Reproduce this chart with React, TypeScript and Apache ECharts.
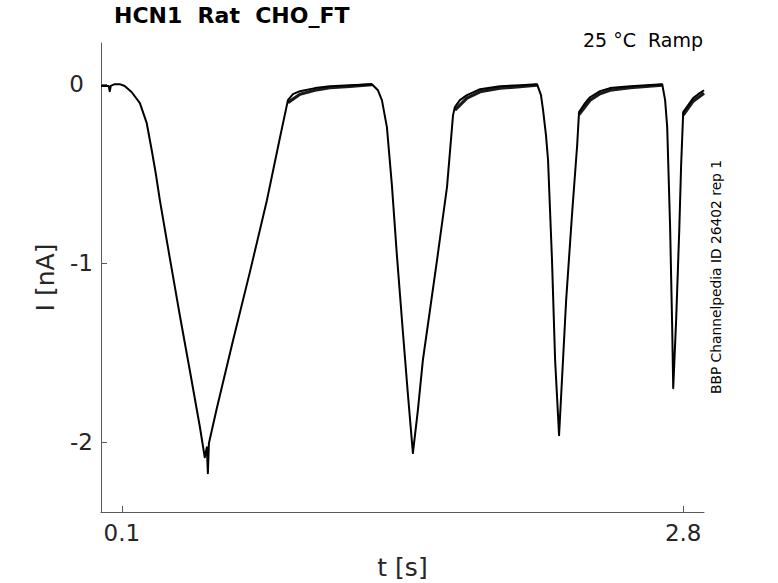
import React, { useEffect, useRef } from "react";
import * as echarts from "echarts";

// Main trace: time [s] and current [nA]
const tMain = [
  0.0, 0.023, 0.037, 0.042, 0.047, 0.066, 0.09, 0.114, 0.148, 0.187, 0.22, 0.244, 0.264, 0.283, 0.331, 0.379, 0.427, 0.475,
  0.499, 0.509, 0.514, 0.519, 0.557, 0.634, 0.716, 0.798, 0.86, 0.899, 0.923, 0.957, 1.029, 1.101, 1.197, 1.303,
  1.332, 1.351, 1.375, 1.399, 1.423, 1.452, 1.476, 1.5, 1.524, 1.548, 1.582, 1.616, 1.664, 1.693, 1.702, 1.726, 1.76,
  1.823, 1.919, 2.015, 2.097,
  2.116, 2.126, 2.14, 2.15, 2.169, 2.184, 2.203, 2.237, 2.265, 2.29, 2.299, 2.328, 2.352, 2.4, 2.448, 2.545, 2.699,
  2.713, 2.723, 2.737, 2.747, 2.752, 2.766, 2.781, 2.79, 2.8, 2.824, 2.848, 2.872, 2.9,
];
const iMain = [
  -0.01, -0.01, -0.01, -0.04, -0.01, 0.0, 0.0, -0.01, -0.045, -0.106, -0.218, -0.369, -0.503, -0.648, -0.972, -1.291, -1.598, -1.911,
  -2.084, -2.028, -2.173, -2.006, -1.81, -1.436, -1.05, -0.648, -0.302, -0.089, -0.056, -0.039, -0.022, -0.011, -0.006, 0.0,
  -0.034, -0.089, -0.24, -0.564, -0.955, -1.386, -1.732, -2.061, -1.821, -1.542, -1.263, -0.983, -0.575, -0.173, -0.128, -0.089, -0.061,
  -0.028, -0.011, -0.006, 0.0,
  -0.061, -0.145, -0.285, -0.425, -0.983, -1.542, -1.961, -1.207, -0.732, -0.341, -0.156, -0.106, -0.073, -0.039, -0.022, -0.011, 0.0,
  -0.089, -0.24, -0.799, -1.358, -1.698, -1.318, -0.816, -0.453, -0.156, -0.117, -0.078, -0.056, -0.034,
];

// Spread of the repeated sweeps during recovery (lower edge of the bundle)
const tBand = [
  0.899, 0.957, 1.029, 1.101, 1.197, 1.303, NaN,
  1.702, 1.76, 1.823, 1.919, 2.015, 2.097, NaN,
  2.299, 2.352, 2.4, 2.448, 2.545, 2.699, NaN,
  2.8, 2.848, 2.9,
];
const iBand = [
  -0.103, -0.056, -0.034, -0.02, -0.012, -0.003, NaN,
  -0.145, -0.078, -0.042, -0.022, -0.014, -0.005, NaN,
  -0.17, -0.09, -0.053, -0.034, -0.02, -0.005, NaN,
  -0.172, -0.095, -0.05,
];

const xTicks = [0.1, 2.8];
const yTicks = [0, -1, -2];

const FONT = "DejaVu Sans";
const TXT = "#262626";

export default function App() {
  const ref = useRef<HTMLDivElement>(null);
  useEffect(() => {
    document.body.style.margin = "0";
    const chart = echarts.init(ref.current!, undefined, { renderer: "svg" });
    const mainData = tMain.map((t, k) => [t, iMain[k]]);
    const bandData = tBand.map((t, k) => (isNaN(t) ? ["-", "-"] : [t, iBand[k]]));
    chart.setOption({
      animation: false,
      backgroundColor: "#fff",
      grid: { left: 101, right: 74, top: 43, bottom: 71, outerBoundsMode: "none" },
      xAxis: {
        type: "value",
        min: 0,
        max: 2.9,
        name: "t [s]",
        nameLocation: "middle",
        nameGap: 43,
        nameTextStyle: { fontFamily: FONT, fontSize: 25, color: TXT },
        axisLine: { show: true, onZero: false, lineStyle: { color: "#595959", width: 1 } },
        axisTick: { show: true, inside: true, length: 6, customValues: xTicks, lineStyle: { color: "#595959" } },
        axisLabel: {
          customValues: xTicks,
          fontFamily: FONT,
          fontSize: 23,
          color: TXT,
          margin: 9,
          formatter: (v: number) => String(v),
        },
        splitLine: { show: false },
      },
      yAxis: {
        type: "value",
        min: -2.39,
        max: 0.23,
        name: "I [nA]",
        nameLocation: "middle",
        nameGap: 35,
        nameTextStyle: { fontFamily: FONT, fontSize: 25, color: TXT },
        axisLine: { show: true, onZero: false, lineStyle: { color: "#595959", width: 1 } },
        axisTick: { show: true, inside: true, length: 6, customValues: yTicks, lineStyle: { color: "#595959" } },
        axisLabel: {
          customValues: yTicks,
          fontFamily: FONT,
          fontSize: 23,
          color: TXT,
          margin: 8,
          formatter: (v: number) => (v === 0 ? "{z|0}" : String(v)),
          rich: { z: { fontFamily: FONT, fontSize: 23, color: TXT, padding: [0, 9, 0, 0] } },
        },
        splitLine: { show: false },
      },
      graphic: [
        {
          type: "text",
          left: 114,
          top: 4,
          style: { text: "HCN1  Rat  CHO_FT", font: `bold 22px "${FONT}"`, fill: "#000" },
        },
        {
          type: "text",
          right: 75,
          top: 30,
          style: { text: "25 °C  Ramp", font: `19px "${FONT}"`, fill: "#000" },
        },
        {
          type: "text",
          x: 716,
          y: 277,
          rotation: Math.PI / 2,
          style: {
            text: "BBP Channelpedia ID 26402 rep 1",
            font: `13.8px "${FONT}"`,
            fill: "#000",
            align: "center",
            verticalAlign: "middle",
          },
        },
      ],
      series: [
        {
          type: "line",
          data: bandData,
          showSymbol: false,
          symbol: "none",
          connectNulls: false,
          lineStyle: { color: "#1a1a1a", width: 3.2, join: "round" },
          z: 2,
        },
        {
          type: "line",
          data: mainData,
          showSymbol: false,
          symbol: "none",
          lineStyle: { color: "#000", width: 2, join: "round" },
          z: 3,
        },
      ],
    });
    return () => chart.dispose();
  }, []);
  return <div ref={ref} style={{ width: 778, height: 583 }} />;
}
